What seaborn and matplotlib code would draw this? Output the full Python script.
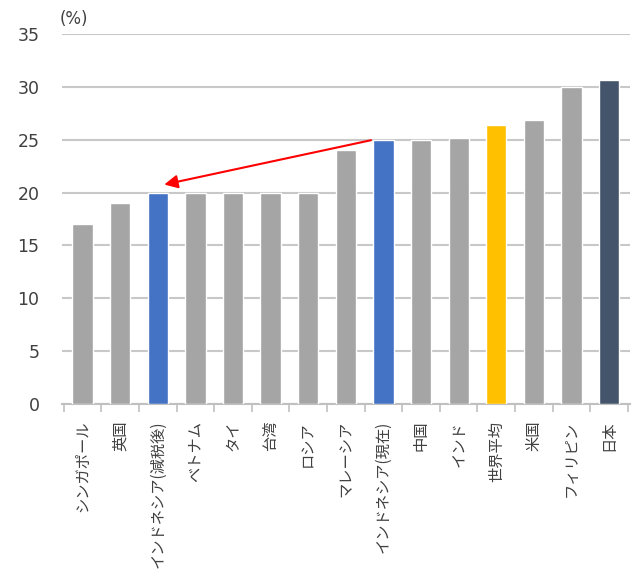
import matplotlib
matplotlib.use("Agg")
import matplotlib.pyplot as plt
import seaborn as sns
import pandas as pd

categories = ["シンガポール", "英国", "インドネシア(減税後)", "ベトナム", "タイ", "台湾", "ロシア",
              "マレーシア", "インドネシア(現在)", "中国", "インド", "世界平均", "米国", "フィリピン", "日本"]
values = [17, 19, 20, 20, 20, 20, 20, 24, 25, 25, 25.17, 26.4, 26.9, 30, 30.62]
colors = ["#a5a5a5", "#a5a5a5", "#4472c4", "#a5a5a5", "#a5a5a5", "#a5a5a5", "#a5a5a5",
          "#a5a5a5", "#4472c4", "#a5a5a5", "#a5a5a5", "#ffc000", "#a5a5a5", "#a5a5a5", "#44546a"]
yticks = [0, 5, 10, 15, 20, 25, 30, 35]

sns.set_theme(style="white")
plt.rcParams['font.family'] = ['DejaVu Sans', 'Noto Sans CJK JP']

df = pd.DataFrame({"cat": categories, "val": values})
fig = plt.figure(figsize=(6.44, 5.74), dpi=100)
ax = fig.add_axes([0.096, 0.296, 0.882, 0.645])
sns.barplot(data=df, x="cat", y="val", hue="cat", palette=colors, legend=False,
            width=0.54, ax=ax, saturation=1, zorder=3)

ax.set_ylim(0, 35)
ax.set_xlim(-0.55, len(categories) - 0.45)
ax.set_yticks(yticks)
ax.set_yticklabels([str(t) for t in yticks], fontsize=12.5, color="#404040")
ax.yaxis.grid(True, color="#c8c8c8", linewidth=1.5, zorder=0)
ax.set_axisbelow(True)
for s in ["top", "right", "left"]:
    ax.spines[s].set_visible(False)
ax.spines["bottom"].set_color("#c0c0c0")
ax.spines["bottom"].set_linewidth(1.5)
ax.tick_params(axis="y", length=0, pad=16)
ax.set_xlabel("")
ax.set_ylabel("")

# x tick marks between categories
ax.set_xticks([i - 0.5 for i in range(len(categories) + 1)], minor=True)
ax.tick_params(axis="x", which="minor", length=6, color="#c0c0c0", width=1.2, bottom=True)
ax.tick_params(axis="x", which="major", length=0, pad=12)
ax.set_xticks(range(len(categories)))
ax.set_xticklabels(categories, rotation=90, fontsize=11, color="#404040",
                   family=['Noto Sans CJK JP', 'DejaVu Sans'], va="top")

ax.text(-0.6, 35.6, "(%)", fontsize=12, color="#404040", ha="left", va="bottom")

ax.annotate("", xy=(2.1, 20.7), xytext=(7.74, 25),
            arrowprops=dict(arrowstyle="-|>", color="#ff0000", lw=1.5, mutation_scale=20),
            zorder=5)

fig.savefig("out.png", dpi=100)
